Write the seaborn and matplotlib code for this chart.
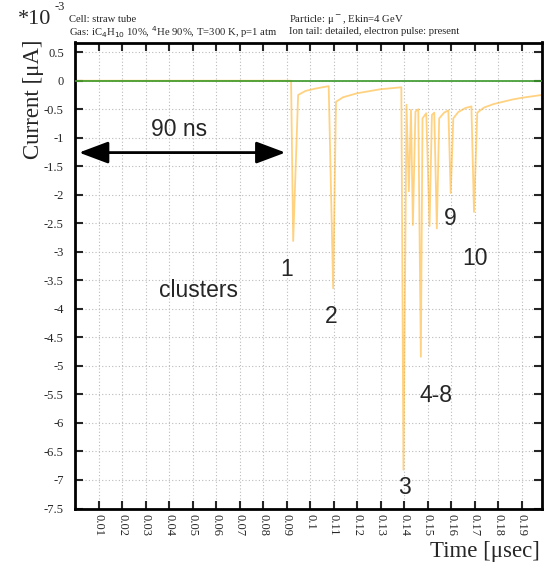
import numpy as np
import pandas as pd
import matplotlib
matplotlib.use("Agg")
import matplotlib.pyplot as plt
import seaborn as sns

# signal: time [usec], current [1e-3 uA]
time_us = [0.0, 0.0919, 0.0928, 0.0949, 0.0980, 0.1020, 0.1079,
           0.1098, 0.1110, 0.1140, 0.1200, 0.1298, 0.1388,
           0.1397, 0.1410, 0.1420, 0.1429, 0.1437, 0.1448, 0.1460,
           0.1471, 0.1478, 0.1494, 0.1508, 0.1518, 0.1528, 0.1539,
           0.1549, 0.1570, 0.1588, 0.1598, 0.1609, 0.1630, 0.1660,
           0.1686, 0.1697, 0.1711, 0.1740, 0.1780, 0.1820, 0.1860,
           0.1900, 0.1985]
current = [0.0, 0.0, -2.81, -0.25, -0.18, -0.14, -0.095,
           -3.64, -0.37, -0.29, -0.22, -0.15, -0.115,
           -6.82, -0.42, -1.94, -0.51, -2.53, -0.54, -0.50,
           -4.84, -0.66, -0.57, -2.55, -0.60, -0.56, -2.59,
           -0.66, -0.56, -0.52, -1.97, -0.66, -0.55, -0.48,
           -0.45, -2.30, -0.56, -0.47, -0.41, -0.37, -0.33,
           -0.30, -0.25]

# cluster labels and where they sit
cluster_names = ["1", "2", "3", "4-8", "9", "10"]
cluster_x = [0.0901, 0.1091, 0.1400, 0.1536, 0.1596, 0.1702]
cluster_y = [-3.31, -4.14, -7.14, -5.52, -2.41, -3.11]

x_ticks = [round(0.01 * i, 2) for i in range(1, 20)]
y_ticks = [0.5 - 0.5 * i for i in range(17)]

sns.set_style("ticks")
plt.rcParams["font.family"] = ["Liberation Serif", "DejaVu Serif"]
plt.rcParams["axes.unicode_minus"] = False

df = pd.DataFrame({"time": time_us, "current": current})

fig = plt.figure(figsize=(5.58, 5.64), dpi=100)
ax = fig.add_axes([75 / 558, 1 - 508.5 / 564, 466.7 / 558, 466 / 564])

ax.axhline(0, color="#3a9a2a", lw=1.2, zorder=3)
sns.lineplot(data=df, x="time", y="current", ax=ax, estimator=None, sort=False,
             color="#ffb52e", alpha=0.6, lw=1.3, zorder=2)

ax.set_xlim(0, 0.1985)
ax.set_ylim(-7.5, 0.67)
ax.set_xticks(x_ticks)
ax.set_xticklabels([f"{v:g}" for v in x_ticks], rotation=-90, fontsize=9)
ax.set_yticks(y_ticks)
ax.set_yticklabels([f"{v:g}" for v in y_ticks], fontsize=9)
ax.tick_params(direction="in", length=6, width=1.5, top=True, right=True)
ax.tick_params(axis="y", pad=8)
ax.tick_params(axis="x", pad=4)
ax.grid(True, ls=(0, (1, 2)), color="#bbbbbb", lw=0.8)
for s in ax.spines.values():
    s.set_linewidth(2)
    s.set_color("black")
ax.set_xlabel("")
ax.set_ylabel("")

# 90 ns arrow
ax.annotate("", xy=(0.0017, -1.26), xytext=(0.0895, -1.26),
            arrowprops=dict(arrowstyle="<|-|>,head_length=1.2,head_width=0.45",
                            mutation_scale=15, color="black", lw=2,
                            shrinkA=0, shrinkB=0))
sans = ["Liberation Sans", "DejaVu Sans"]
ax.text(0.0441, -0.86, "90 ns", fontsize=16.5, family=sans, ha="center", va="center")
ax.text(0.0525, -3.67, "clusters", fontsize=16.5, family=sans, ha="center", va="center")
for name, cx, cy in zip(cluster_names, cluster_x, cluster_y):
    ax.text(cx, cy, name, fontsize=16.5, family=sans, ha="center", va="center")

# header texts
fig.text(18 / 558, 1 - 20 / 564, "*10", fontsize=16, va="center", ha="left")
fig.text(55 / 558, 1 - 7 / 564, "-3", fontsize=9, va="center", ha="left")
fig.text(69 / 558, 1 - 20 / 564, "Cell: straw tube", fontsize=7.7, va="center")
fig.text(69 / 558, 1 - 32 / 564,
         "Gas: iC$_4$H$_{10}$ 10%, $^4$He 90%, T=300 K, p=1 atm",
         fontsize=7.7, va="center")
fig.text(289 / 558, 1 - 20 / 564, "Particle: \u03bc$^-$, Ekin=4 GeV", fontsize=7.7, va="center")
fig.text(289 / 558, 1 - 32 / 564, "Ion tail: detailed, electron pulse: present",
         fontsize=7.7, va="center")

fig.text(33 / 558, 1 - 99 / 564, "Current [\u03bcA]", fontsize=16.5, rotation=90,
         ha="center", va="center")
fig.text(540 / 558, 1 - 551 / 564, "Time [\u03bcsec]", fontsize=16.5, ha="right", va="center")

fig.savefig("out.png", dpi=100)
